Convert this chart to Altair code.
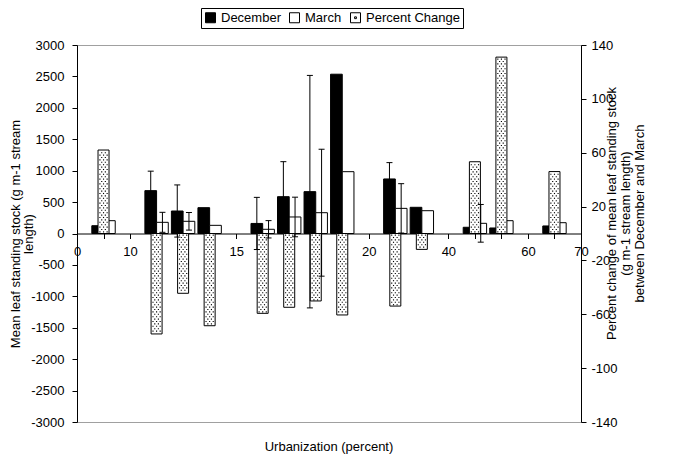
import altair as alt
import pandas as pd

# ---------------- data ----------------
series = ["December", "March", "Percent Change"]
# category slot of each site cluster on the urbanization axis
slots = [1, 3, 4, 5, 7, 8, 9, 10, 12, 13, 15, 16, 18]
december = [124, 682, 358, 411, 160, 586, 666, 2535, 868, 417, 99, 88, 120]
march = [204, 178, 194, 130, 67, 263, 331, 984, 400, 363, 162, 204, 172]
percent_change = [62, -74.6, -44.4, -68.5, -59.3, -54.8, -50.1, -60.5, -53.9, -11.8, 53.3, 131, 46]
december_err = [0, 310, 415, 0, 415, 557, 1850, 0, 260, 0, 0, 0, 0]
march_err = [0, 159, 140, 0, 138, 315, 1010, 0, 393, 0, 300, 0, 0]
x_tick_labels = ["0", "10", "15", "20", "40", "60", "70"]
x_tick_slots = [0, 2, 6, 11, 14, 17, 19]
left_ticks = list(range(-3000, 3001, 500))
right_ticks = [-140, -100, -60, -20, 20, 60, 100, 140]

# ---------------- geometry ----------------
W, H = 504, 377
N_SLOTS = 19
PX_SLOT = W / N_SLOTS
PX_PCT = H / 280.0
BW = 11.7 / PX_SLOT          # December / March bar width (slots)
PW = 11.0 / PX_SLOT          # percent-change bar width (slots)
CAP = 3.0 / PX_SLOT          # half width of error caps
F = "Liberation Sans, Arial, Helvetica, sans-serif"

# ---------------- tables ----------------
dec_rows, mar_rows, pct_rows, dot_rows, err_rows, cap_rows = [], [], [], [], [], []
for s, d, m, p, de, me in zip(slots, december, march, percent_change, december_err, march_err):
    dec_rows.append({"x0": s - BW, "x1": s, "v": d})
    mar_rows.append({"x0": s, "x1": s + BW, "v": m})
    pct_rows.append({"x0": s - PW / 2, "x1": s + PW / 2, "v": p})
    sign = 1 if p > 0 else -1
    h_px = abs(p) * PX_PCT
    y, k = 1.6, 0
    while y < h_px - 1.0:
        offs = [-3.6, 0, 3.6] if k % 2 == 0 else [-1.8, 1.8]
        for o in offs:
            dot_rows.append({"x": s + o / PX_SLOT, "v": sign * y / PX_PCT})
        y += 2.4
        k += 1
    for val, e, c in ((d, de, s - BW / 2), (m, me, s + BW / 2)):
        if e > 0:
            err_rows.append({"c": c, "lo": val - e, "hi": val + e})
            for yy in (val - e, val + e):
                cap_rows.append({"x0": c - CAP, "x1": c + CAP, "v": yy})

dec_df = pd.DataFrame(dec_rows)
mar_df = pd.DataFrame(mar_rows)
pct_df = pd.DataFrame(pct_rows)
dot_df = pd.DataFrame(dot_rows)
err_df = pd.DataFrame(err_rows)
cap_df = pd.DataFrame(cap_rows)
# legend carrier: placed outside the x domain and clipped away
leg_df = pd.DataFrame({"series": series, "c": [-5, -5, -5], "v": [0, 0, 0]})

# ---------------- scales & axes ----------------
label_list = [""] * (N_SLOTS + 1)
for lab, pos in zip(x_tick_labels, x_tick_slots):
    label_list[pos] = lab
label_expr = "[" + ",".join("'%s'" % t for t in label_list) + "][datum.value]"

xs = alt.Scale(domain=[0, N_SLOTS], nice=False, zero=False, padding=0)
xaxis = alt.Axis(orient="bottom", offset=-H / 2, values=list(range(N_SLOTS + 1)),
                 labelExpr=label_expr, tickSize=5, labelPadding=7, labelFlush=False,
                 labelOverlap=False, labelBound=False, title=None)
ys_left = alt.Scale(domain=[-3000, 3000], nice=False, zero=False)
ys_right = alt.Scale(domain=[-140, 140], nice=False, zero=False)
left_axis = alt.Axis(values=left_ticks, labelExpr="'' + datum.value", tickSize=5,
                     labelPadding=8,
                     title=["Mean leaf standing stock (g m-1 stream", "length)"],
                     titleAngle=270, titleBaseline="top", titleAlign="center",
                     titleX=-68, titleY=H / 2, titleLineHeight=13)
right_axis = alt.Axis(orient="right", values=right_ticks, labelExpr="'' + datum.value",
                      tickSize=5, labelPadding=5,
                      title=["Percent change of mean leaf standing stock",
                             "(g m-1 stream length)", "between December and March"],
                      titleAngle=270, titleBaseline="top", titleAlign="center",
                      titleX=24, titleY=168, titleLineHeight=14)

def X(f):
    return alt.X(f, type="quantitative", scale=xs, axis=xaxis, title=None)

color_scale = alt.Scale(domain=series, range=["black", "white", "white"])
shape_scale = alt.Scale(domain=series, range=[
    "square", "square",
    "M-1,-1H1V1H-1Z M-0.18,-0.18H0.18V0.18H-0.18Z"])
legend = alt.Legend(title=None, orient="none", legendX=124, legendY=-37,
                    direction="horizontal", strokeColor="black", fillColor="white",
                    padding=3, labelFontSize=13, labelFont=F, labelColor="black",
                    symbolSize=100, symbolStrokeWidth=1, symbolStrokeColor="black",
                    columnPadding=6, labelOffset=4)

# ---------------- primary bars ----------------
dec_bars = alt.Chart(dec_df).mark_bar(fill="black", stroke="black", strokeWidth=1).encode(
    x=X("x0"), x2="x1",
    y=alt.Y("v:Q", scale=ys_left, axis=left_axis),
    y2=alt.Y2(datum=0),
)
mar_bars = alt.Chart(mar_df).mark_bar(fill="white", stroke="black", strokeWidth=1).encode(
    x=X("x0"), x2="x1",
    y=alt.Y("v:Q", scale=ys_left, axis=left_axis),
    y2=alt.Y2(datum=0),
)
g1 = alt.layer(dec_bars, mar_bars)

# ---------------- secondary (percent change) ----------------
pct = alt.Chart(pct_df).mark_bar(fill="white", stroke="black", strokeWidth=1).encode(
    x=X("x0"), x2="x1",
    y=alt.Y("v:Q", scale=ys_right, axis=right_axis),
    y2=alt.Y2(datum=0),
)
dots = alt.Chart(dot_df).mark_square(size=1.3, color="black", opacity=1).encode(
    x=X("x"),
    y=alt.Y("v:Q", scale=ys_right, axis=right_axis),
)
g2 = alt.layer(pct, dots)

# ---------------- error bars + legend ----------------
ys_err = alt.Scale(domain=[-3000, 3000], nice=False, zero=False)
err = alt.Chart(err_df).mark_rule(color="black", strokeWidth=1).encode(
    x=X("c"),
    y=alt.Y("lo:Q", scale=ys_err, axis=None), y2="hi",
)
caps = alt.Chart(cap_df).mark_rule(color="black", strokeWidth=1).encode(
    x=X("x0"), x2="x1",
    y=alt.Y("v:Q", scale=ys_err, axis=None),
)
leg = alt.Chart(leg_df).mark_point(
    filled=True, stroke="black", strokeWidth=1, opacity=1, clip=True).encode(
    x=X("c"),
    y=alt.Y("v:Q", scale=ys_err, axis=None),
    color=alt.Color("series:N", scale=color_scale, legend=legend),
    shape=alt.Shape("series:N", scale=shape_scale, legend=legend),
)
g3 = alt.layer(err, caps, leg)

chart = alt.layer(g1, g2, g3).resolve_scale(y="independent").properties(
    width=W, height=H,
    autosize=alt.AutoSizeParams(type="none"),
    padding={"left": 69, "top": 37, "right": 84, "bottom": 33},
    title=alt.TitleParams(text="Urbanization (percent)", orient="bottom", frame="group",
                          anchor="middle", offset=12, fontSize=13, fontWeight="normal",
                          font=F, color="black"),
).configure_axis(
    labelFont=F, titleFont=F, labelFontSize=13, titleFontSize=13,
    titleFontWeight="normal", labelColor="black", titleColor="black",
    domainColor="black", tickColor="black", grid=False,
).configure_view(stroke="#a0a0a0", strokeWidth=1)

chart.save("out.html", embed_options={"renderer": "svg", "actions": False})
